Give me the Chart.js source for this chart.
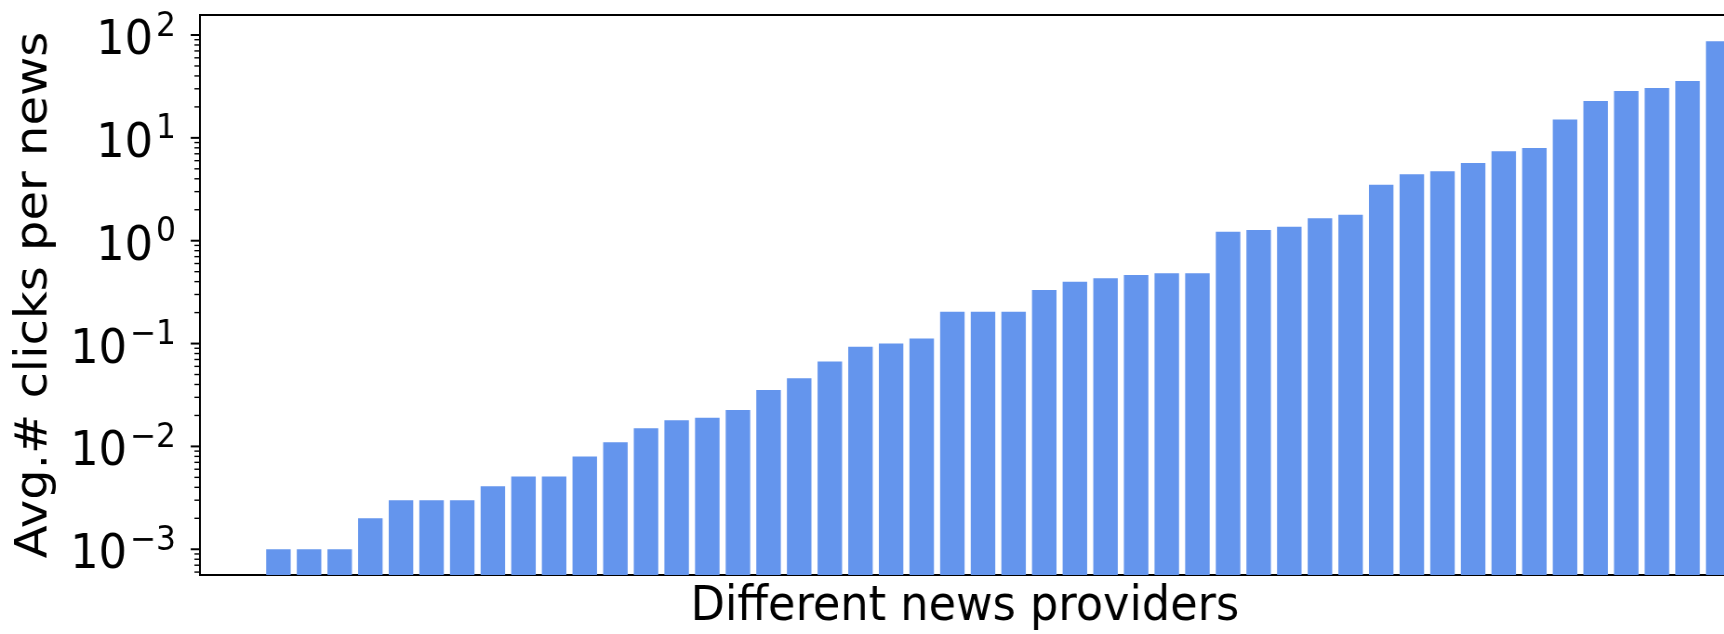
<!DOCTYPE html>
<html>
<head>
<meta charset="utf-8">
<script src="https://cdn.jsdelivr.net/npm/chart.js@4.4.1/dist/chart.umd.min.js"></script>
<style>
  html, body { margin: 0; padding: 0; background: #fff; overflow: hidden; width: 1724px; height: 634px; }
  /* the figure is drawn slightly narrow: glyphs and bars share the same horizontal squeeze */
  #wrap { width: 1860px; height: 634px; transform: scaleX(0.93); transform-origin: 0 0; }
  canvas { display: block; }
</style>
</head>
<body>
<div id="wrap"><canvas id="chart" width="1860" height="634"></canvas></div>
<script>
// Average number of clicks per news item, one bar per provider, sorted ascending
const clicksPerNews = [
  0.001, 0.001, 0.001, 0.002, 0.003, 0.003, 0.003, 0.0041, 0.0051, 0.0051,
  0.008, 0.011, 0.015, 0.018, 0.019, 0.0226, 0.0354, 0.046, 0.067, 0.093,
  0.1, 0.112, 0.204, 0.204, 0.204, 0.332, 0.40, 0.431, 0.464, 0.482,
  0.482, 1.22, 1.27, 1.37, 1.65, 1.79, 3.5, 4.42, 4.73, 5.7,
  7.4, 7.97, 15.1, 22.8, 28.5, 30.5, 35.7, 86.9
];

// Log-axis decades that get a "10^n" label, and the exponent text for each
const yDecades = [-3, -2, -1, 0, 1, 2];
const yExponentText = ['\u22123', '\u22122', '\u22121', '0', '1', '2'];
// Minor tick multipliers inside each decade
const minorMultipliers = [2, 3, 4, 5, 6, 7, 8, 9];

const xTitle = 'Different news providers';
const yTitle = 'Avg.# clicks per news';

const FONT = '"DejaVu Sans", sans-serif';
const INK = '#000';
const BAR_COLOR = '#6495ED';

// Draws the top spine, the log ticks (major + minor) and the 10^n tick labels
const logAxisDecoration = {
  id: 'logAxisDecoration',
  afterDraw(chart) {
    const { ctx, chartArea } = chart;
    const y = chart.scales.y;
    const left = chartArea.left;
    ctx.save();
    ctx.strokeStyle = INK;

    ctx.lineWidth = 2;
    ctx.beginPath();
    ctx.moveTo(left - 1, chartArea.top);
    ctx.lineTo(chartArea.right + 1, chartArea.top);
    ctx.stroke();

    const decadesAll = [yDecades[0] - 1, ...yDecades];
    decadesAll.forEach(e => {
      const base = Math.pow(10, e);
      [1, ...minorMultipliers].forEach(m => {
        const v = m * base;
        if (v < y.min || v > y.max) return;
        const py = y.getPixelForValue(v);
        const major = m === 1;
        ctx.lineWidth = major ? 2 : 1.4;
        ctx.beginPath();
        ctx.moveTo(left, py);
        ctx.lineTo(left - (major ? 10 : 6), py);
        ctx.stroke();
      });
    });

    ctx.fillStyle = INK;
    ctx.textAlign = 'right';
    ctx.textBaseline = 'alphabetic';
    const expRight = 189;
    yDecades.forEach((e, i) => {
      const py = y.getPixelForValue(Math.pow(10, e));
      ctx.font = '33.6px ' + FONT;
      ctx.fillText(yExponentText[i], expRight, py + 0.5);
      const w = ctx.measureText(yExponentText[i]).width;
      ctx.font = '48px ' + FONT;
      ctx.fillText('10', expRight - w - 3, py + 19);
    });
    ctx.restore();
  }
};

new Chart(document.getElementById('chart'), {
  type: 'bar',
  data: {
    datasets: [{
      data: clicksPerNews.map((v, i) => ({ x: i, y: v })),
      backgroundColor: BAR_COLOR,
      borderWidth: 0,
      barPercentage: 0.8,
      categoryPercentage: 1.0
    }]
  },
  options: {
    responsive: false,
    animation: false,
    devicePixelRatio: 1,
    layout: { padding: { top: 15, right: 0, bottom: 0, left: 0 } },
    plugins: { legend: { display: false }, tooltip: { enabled: false } },
    scales: {
      x: {
        type: 'linear',
        bounds: 'data',
        min: -2.56,
        max: 47.38,
        offset: false,
        z: 1,
        grid: { display: false },
        ticks: { display: false },
        border: { display: true, color: INK, width: 2 },
        title: {
          display: true, text: xTitle, color: INK,
          font: { family: FONT, size: 48, lineHeight: 1 },
          padding: { top: 0, bottom: 2.3 }
        },
        afterFit: s => { s.height = 59; }
      },
      y: {
        type: 'logarithmic',
        bounds: 'data',
        min: 5.62e-4,
        max: 156.5,
        z: 1,
        grid: { display: false },
        ticks: { display: false },
        border: { display: true, color: INK, width: 2 },
        title: {
          display: true, text: yTitle, color: INK,
          font: { family: FONT, size: 48, lineHeight: 1.2 },
          padding: { top: 8.4, bottom: 0 }
        },
        afterFit: s => { s.width = 215.05; }
      }
    }
  },
  plugins: [logAxisDecoration]
});
</script>
</body>
</html>
